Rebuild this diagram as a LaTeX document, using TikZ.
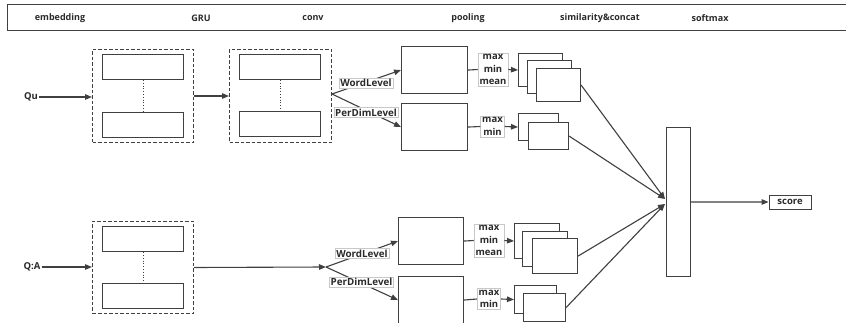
\documentclass[tikz,border=0pt]{standalone}
\usepackage{fontspec}
\setmainfont{Open Sans}
\usetikzlibrary{arrows.meta,calc}
\definecolor{lc}{HTML}{404040}
\definecolor{tc}{HTML}{2A2A2A}
\definecolor{lblc}{HTML}{C8C8C8}
\tikzset{
  conn/.style={draw=lc, line width=1.1pt},
  arr/.style={conn, -{Triangle[length=7pt,width=5.5pt]}},
  dbox/.style={draw=lc, line width=1pt, dash pattern=on 3.5pt off 2pt, fill=white, inner sep=0pt, anchor=north west},
  rbox/.style={draw=lc, line width=1.1pt, fill=white, inner sep=0pt, anchor=north west},
  hdr/.style={font=\fontsize{9}{10}\selectfont\bfseries, text=tc, inner sep=0pt},
  inlbl/.style={font=\fontsize{9.5}{11}\selectfont\bfseries, text=tc, inner sep=1pt},
  lvl/.style={draw=lblc, line width=0.6pt, fill=white, font=\fontsize{9.8}{11}\selectfont\bfseries, text=tc, inner sep=1.2pt},
  pool/.style={draw=lblc, line width=0.6pt, fill=white, font=\fontsize{9.5}{12.5}\selectfont\bfseries, text=tc, inner sep=1.5pt, align=center},
  dots/.style={draw=lc, line width=0.8pt, dotted}
}
\begin{document}
\begin{tikzpicture}[x=1pt, y=-1pt]
\useasboundingbox (0,0) rectangle (846,323);
\fill[white] (0,0) rectangle (846,323);

% header band with the stage names
\draw[draw=lc, line width=1pt] (7,5) rectangle (880,31);
\node[hdr] (h1) at (60,18) {embedding};
\node[hdr] (h2) at (201,18) {GRU};
\node[hdr] (h3) at (313,18) {conv};
\node[hdr] (h4) at (468,18) {pooling};
\node[hdr] (h5) at (600,18) {similarity\&concat};
\node[hdr] (h6) at (710,18) {softmax};

% inputs
\node[inlbl] (qu) at (31,97) {Qu};
\node[inlbl] (qa) at (32,267) {Q:A};

% embedding and GRU blocks for the question
\node[dbox, minimum width=101pt, minimum height=93pt] (d1) at (92,49) {};
\node[rbox, minimum width=81pt, minimum height=25pt] (d1a) at (102,54) {};
\node[rbox, minimum width=81pt, minimum height=25pt] (d1b) at (102,112) {};
\draw[dots] (d1a.south) -- (d1b.north);

\node[dbox, minimum width=102pt, minimum height=93pt] (d2) at (229,49) {};
\node[rbox, minimum width=81pt, minimum height=25pt] (d2a) at (239,54) {};
\node[rbox, minimum width=81pt, minimum height=25pt] (d2b) at (239,111) {};
\draw[dots] (d2a.south) -- (d2b.north);

% embedding block for question:answer
\node[dbox, minimum width=101pt, minimum height=92pt] (d3) at (92,221) {};
\node[rbox, minimum width=81pt, minimum height=25pt] (d3a) at (102,226) {};
\node[rbox, minimum width=81pt, minimum height=25pt] (d3b) at (102,283) {};
\draw[dots] (d3a.south) -- (d3b.north);

% convolution boxes
\node[rbox, minimum width=66pt, minimum height=47pt] (c1) at (401,46) {};
\node[rbox, minimum width=66pt, minimum height=47pt] (c2) at (401,103) {};
\node[rbox, minimum width=65pt, minimum height=47pt] (c3) at (398,217) {};
\node[rbox, minimum width=65pt, minimum height=47pt] (c4) at (398,276) {};

% pooled feature stacks
\node[rbox, minimum width=44pt, minimum height=33pt] (s1a) at (518,53) {};
\node[rbox, minimum width=44pt, minimum height=33pt] (s1b) at (527,60) {};
\node[rbox, minimum width=44pt, minimum height=33pt] (s1c) at (536,68) {};
\node[rbox, minimum width=40pt, minimum height=27pt] (s2a) at (518,113) {};
\node[rbox, minimum width=40pt, minimum height=27pt] (s2b) at (528,122) {};
\node[rbox, minimum width=45pt, minimum height=35pt] (s3a) at (514,223) {};
\node[rbox, minimum width=45pt, minimum height=35pt] (s3b) at (522,231) {};
\node[rbox, minimum width=45pt, minimum height=35pt] (s3c) at (532,238) {};
\node[rbox, minimum width=42pt, minimum height=28pt] (s4a) at (514,285) {};
\node[rbox, minimum width=42pt, minimum height=28pt] (s4b) at (523,293) {};

% softmax layer and output
\node[rbox, minimum width=24pt, minimum height=149pt] (sm) at (666,127) {};
\node[draw=lc, line width=0.9pt, fill=white, font=\fontsize{9.5}{10}\selectfont\bfseries, text=tc, inner sep=0pt, minimum width=42pt, minimum height=14pt] (score) at (790,202) {score};

% split points and softmax inputs
\coordinate (sp1) at (332,94);
\coordinate (sp2) at (326,267);
\coordinate (in1) at (665,199);
\coordinate (in2) at (665,204);

% connectors
\draw[arr] (qu.east) -- (qu.east -| d1.west);
\draw[arr] (qa.east) -- (qa.east -| d3.west);
\draw[arr] (d1.east) -- (d2.west);
\draw[arr] (d3.east) -- (sp2);
\draw[arr] (sp1) -- (c1.west);
\draw[arr] (sp1) -- (c2.west);
\draw[arr] (sp2) -- (c3.west);
\draw[arr] (sp2) -- (c4.west);

% level labels sit over their connectors
\node[lvl] (w1) at (366,83) {WordLevel};
\node[lvl] (pd1) at (366,112.5) {PerDimLevel};
\node[lvl] (w2) at (362,253.5) {WordLevel};
\node[lvl] (pd2) at (361.5,282) {PerDimLevel};

% pooling labels
\node[pool] (p1) at (493,69.5) {max\\min\\mean};
\node[pool] (p2) at (492.5,126.5) {max\\min};
\node[pool] (p3) at (489,240.5) {max\\min\\mean};
\node[pool] (p4) at (489,299) {max\\min};

\draw[conn] (c1.east) -- (p1.west);
\draw[conn] (c2.east) -- (p2.west);
\draw[conn] (c3.east) -- (p3.west);
\draw[conn] (c4.east) -- (p4.west);
\draw[arr] (p1.east) -- (s1a.west);
\draw[arr] (p2.east) -- (s2a.west);
\draw[arr] (p3.east) -- (s3a.west);
\draw[arr] (p4.east) -- (s4a.west);

% into softmax
\draw[arr] (s1c.east) -- (in1);
\draw[arr] (s2b.east) -- (in1);
\draw[arr] (s3c.east) -- (in2);
\draw[arr] (s4b.east) -- (in2);
\draw[arr] (sm.east) -- (score.west);
\end{tikzpicture}
\end{document}
